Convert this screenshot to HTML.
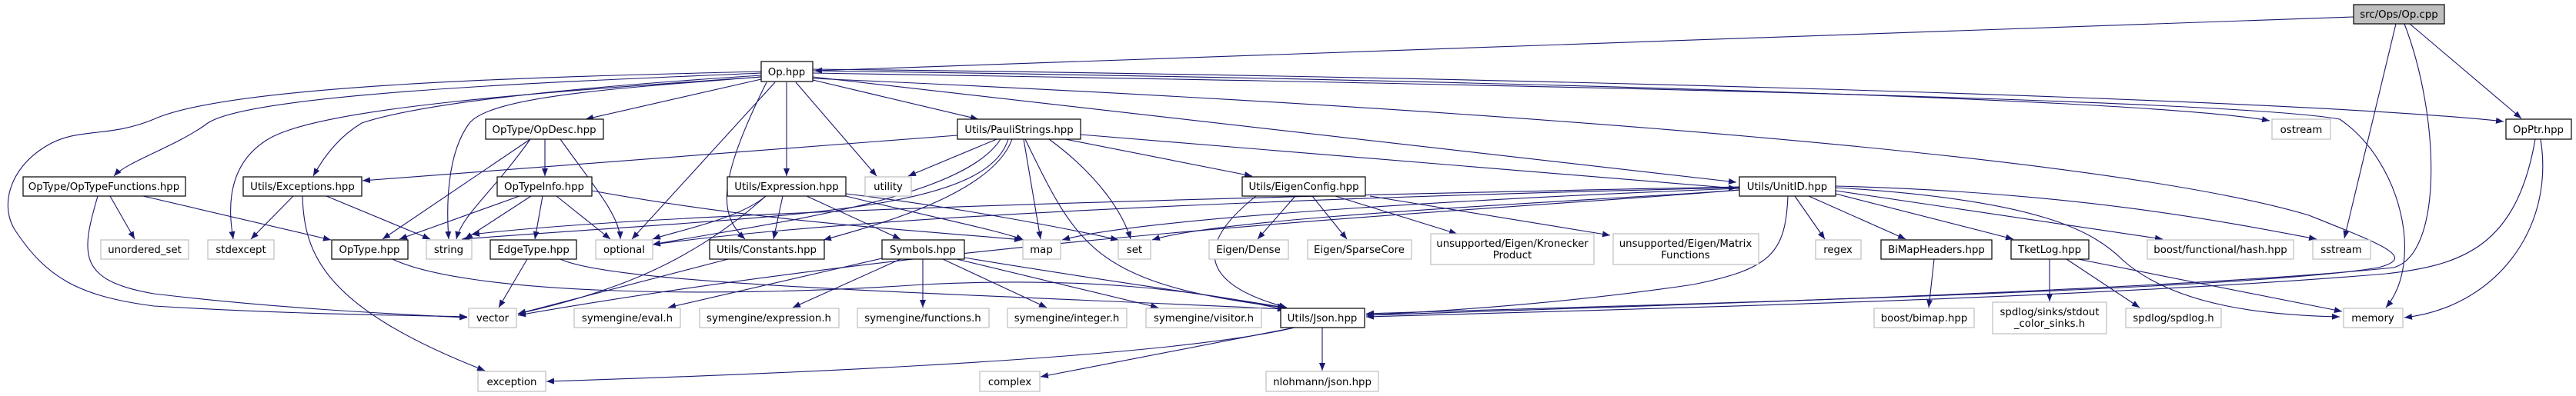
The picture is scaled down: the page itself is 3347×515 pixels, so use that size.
<!DOCTYPE html>
<html><head><meta charset="utf-8"><style>
html,body{margin:0;padding:0;background:#fff;width:3347px;height:515px;overflow:hidden}
svg{display:block}
text{font-family:"DejaVu Sans","Liberation Sans",sans-serif;font-size:13.3px;text-anchor:middle;fill:#000}
.e{fill:none;stroke:#191970;stroke-width:1.1;marker-end:url(#a)}
.b{fill:#fff;stroke:#000;stroke-width:1.2}
.g{fill:#fff;stroke:#bfbfbf;stroke-width:1.2}
</style></head><body>
<svg width="3347" height="515" viewBox="0 0 3347 515" xmlns="http://www.w3.org/2000/svg">
<defs><marker id="a" markerUnits="userSpaceOnUse" markerWidth="11" markerHeight="8" refX="10" refY="4" orient="auto"><path d="M0,0 L10,4 L0,8 z" fill="#191970"/></marker></defs>
<g>
<!-- Op.cpp edges -->
<path class="e" d="M3058,22 Q2200,50 1058,92"/>
<path class="e" d="M3113,31 L3046,310"/>
<path class="e" d="M3124,31 C3170,150 3175,330 3110,348 C2800,380 2000,402 1775,410"/>
<path class="e" d="M3131,31 L3276,154"/>
<path class="e" d="M3294,181 C3270,320 3200,345 3100,356 C2700,390 2000,405 1775,412"/>
<path class="e" d="M3301,181 C3320,300 3240,400 3124,413"/>
<!-- Op.hpp edges -->
<path class="e" d="M989,103 L761,155"/>
<path class="e" d="M989,95 C760,105 330,120 270,160 C230,190 165,210 148,229"/>
<path class="e" d="M989,98 C800,110 560,130 470,160 C440,178 420,205 407,229"/>
<path class="e" d="M989,100 C700,120 420,140 350,180 C290,215 298,280 303,311"/>
<path class="e" d="M989,100 C800,115 640,125 610,160 C580,200 580,270 583,311"/>
<path class="e" d="M989,93 C700,100 300,110 200,155 C140,180 100,165 60,190 C10,220 0,270 20,300 C60,360 100,385 200,398 C400,410 550,410 607,412"/>
<path class="e" d="M1007,107 L821,311"/>
<path class="e" d="M996,107 C930,240 935,280 968,311"/>
<path class="e" d="M1022,107 L1022,229"/>
<path class="e" d="M1034,107 L1139,229"/>
<path class="e" d="M1056,104 L1271,155"/>
<path class="e" d="M1056,100 L2256,237"/>
<path class="e" d="M1056,92 C2000,105 2800,130 2949,157"/>
<path class="e" d="M1056,90 C2000,100 3000,130 3253,158"/>
<path class="e" d="M1056,95 C2000,110 2900,130 3040,155 C3120,210 3150,340 3100,400"/>
<path class="e" d="M1056,102 C1700,130 2700,190 3000,280 C3100,320 3140,335 3090,348 C2900,380 2000,400 1775,408"/>
<!-- OpDesc -->
<path class="e" d="M708,181 L708,229"/>
<path class="e" d="M728,181 C770,240 805,280 806,311"/>
<path class="e" d="M689,181 L497,311"/>
<path class="e" d="M689,181 C640,250 600,280 593,311"/>
<!-- OpTypeFunctions -->
<path class="e" d="M143,255 L175,311"/>
<path class="e" d="M186,255 L430,312"/>
<path class="e" d="M127,255 C105,330 100,365 200,382 C350,400 500,408 607,413"/>
<!-- Exceptions -->
<path class="e" d="M381,255 L326,311"/>
<path class="e" d="M424,255 L559,311"/>
<path class="e" d="M393,255 C395,330 420,400 630,482"/>
<!-- OpTypeInfo -->
<path class="e" d="M675,255 L519,311"/>
<path class="e" d="M690,255 L604,311"/>
<path class="e" d="M705,255 L695,311"/>
<path class="e" d="M723,255 L793,311"/>
<path class="e" d="M769,248 C1000,290 1200,300 1328,312"/>
<!-- Expression -->
<path class="e" d="M995,255 C960,285 880,300 848,311"/>
<path class="e" d="M1017,255 L1005,311"/>
<path class="e" d="M1048,255 L1170,311"/>
<path class="e" d="M995,255 C900,340 800,380 673,408"/>
<path class="e" d="M1099,255 C1200,280 1300,300 1330,312"/>
<path class="e" d="M1099,252 C1250,270 1400,300 1453,312"/>
<!-- PauliStrings -->
<path class="e" d="M1244,176 L471,235"/>
<path class="e" d="M1295,181 L1180,229"/>
<path class="e" d="M1330,181 L1352,311"/>
<path class="e" d="M1363,181 C1430,230 1460,280 1469,311"/>
<path class="e" d="M1384,181 L1627,229"/>
<path class="e" d="M1404,175 L2256,245"/>
<path class="e" d="M1310,181 C1280,280 1000,280 600,311"/>
<path class="e" d="M1300,181 C1250,260 1000,290 848,318"/>
<path class="e" d="M1315,181 C1290,250 1150,290 1070,312"/>
<path class="e" d="M1332,181 C1400,320 1420,370 1670,400"/>
<!-- EigenConfig -->
<path class="e" d="M1683,255 L1634,311"/>
<path class="e" d="M1705,255 L1750,311"/>
<path class="e" d="M1735,255 L1893,304"/>
<path class="e" d="M1780,255 L2092,306"/>
<path class="e" d="M1632,255 C1550,320 1560,370 1672,400"/>
<!-- UnitID -->
<path class="e" d="M2332,255 L2371,311"/>
<path class="e" d="M2350,255 L2476,311"/>
<path class="e" d="M2385,252 L2616,311"/>
<path class="e" d="M2385,248 L2810,311"/>
<path class="e" d="M2385,242 C2700,250 2900,290 3010,311"/>
<path class="e" d="M2385,244 C2650,260 2720,300 2760,340 C2830,400 2950,410 3040,412"/>
<path class="e" d="M2323,255 C2320,330 2300,350 2200,370 C2000,400 1800,408 1775,410"/>
<path class="e" d="M2260,245 C2000,255 1500,280 1380,312"/>
<path class="e" d="M2260,247 C2100,260 1600,280 1497,312"/>
<path class="e" d="M2260,244 C2000,250 1200,270 848,318"/>
<path class="e" d="M2260,243 C1900,250 900,270 613,305"/>
<path class="e" d="M2260,247 C2000,270 1300,300 673,410"/>
<!-- leaves -->
<path class="e" d="M2513,337 L2506,400"/>
<path class="e" d="M2663,337 L2663,392"/>
<path class="e" d="M2685,337 L2780,400"/>
<path class="e" d="M2700,337 L3043,405"/>
<path class="e" d="M1199,337 L1199,400"/>
<path class="e" d="M1225,337 L1360,400"/>
<path class="e" d="M1243,337 L1505,400"/>
<path class="e" d="M1253,335 C1400,360 1550,380 1670,400"/>
<path class="e" d="M1150,335 L868,400"/>
<path class="e" d="M1170,337 L1030,400"/>
<path class="e" d="M946,337 L673,408"/>
<path class="e" d="M510,337 C600,380 900,390 1200,370 C1400,360 1550,375 1670,403"/>
<path class="e" d="M685,337 L648,400"/>
<path class="e" d="M728,337 C800,370 1200,380 1670,402"/>
<path class="e" d="M1682,426 C1500,470 900,490 710,496"/>
<path class="e" d="M1682,426 L1352,490"/>
<path class="e" d="M1718,426 L1718,482"/>
</g>
<g>
<rect x="3058" y="6" width="118" height="25" fill="#bfbfbf" stroke="#000" stroke-width="1.2"/><text x="3117" y="23">src/Ops/Op.cpp</text>
<rect class="b" x="989" y="80" width="67" height="26"/><text x="1022" y="98">Op.hpp</text>
<rect class="b" x="631" y="155" width="153" height="26"/><text x="707" y="173">OpType/OpDesc.hpp</text>
<rect class="b" x="1244" y="155" width="160" height="26"/><text x="1324" y="173">Utils/PauliStrings.hpp</text>
<rect class="g" x="2952" y="155" width="76" height="26"/><text x="2990" y="173">ostream</text>
<rect class="b" x="3256" y="155" width="85" height="26"/><text x="3298" y="173">OpPtr.hpp</text>
<rect class="b" x="30" y="230" width="211" height="25"/><text x="135" y="247">OpType/OpTypeFunctions.hpp</text>
<rect class="b" x="316" y="230" width="154" height="25"/><text x="393" y="247">Utils/Exceptions.hpp</text>
<rect class="b" x="646" y="230" width="123" height="25"/><text x="707" y="247">OpTypeInfo.hpp</text>
<rect class="b" x="945" y="230" width="154" height="25"/><text x="1022" y="247">Utils/Expression.hpp</text>
<rect class="g" x="1124" y="230" width="60" height="25"/><text x="1154" y="247">utility</text>
<rect class="b" x="1614" y="230" width="160" height="25"/><text x="1694" y="247">Utils/EigenConfig.hpp</text>
<rect class="b" x="2260" y="230" width="125" height="25"/><text x="2322" y="247">Utils/UnitID.hpp</text>
<rect class="g" x="131" y="312" width="114" height="25"/><text x="188" y="329">unordered_set</text>
<rect class="g" x="270" y="312" width="86" height="25"/><text x="313" y="329">stdexcept</text>
<rect class="b" x="431" y="312" width="99" height="25"/><text x="480" y="329">OpType.hpp</text>
<rect class="g" x="554" y="312" width="59" height="25"/><text x="583" y="329">string</text>
<rect class="b" x="637" y="312" width="112" height="25"/><text x="693" y="329">EdgeType.hpp</text>
<rect class="g" x="774" y="312" width="74" height="25"/><text x="811" y="329">optional</text>
<rect class="b" x="922" y="312" width="149" height="25"/><text x="996" y="329">Utils/Constants.hpp</text>
<rect class="b" x="1146" y="312" width="107" height="25"/><text x="1199" y="329">Symbols.hpp</text>
<rect class="g" x="1329" y="312" width="49" height="25"/><text x="1353" y="329">map</text>
<rect class="g" x="1453" y="312" width="42" height="25"/><text x="1474" y="329">set</text>
<rect class="g" x="1571" y="312" width="103" height="25"/><text x="1622" y="329">Eigen/Dense</text>
<rect class="g" x="1699" y="312" width="135" height="25"/><text x="1766" y="329">Eigen/SparseCore</text>
<rect class="g" x="1859" y="304" width="212" height="40"/><text x="1965" y="321">unsupported/Eigen/Kronecker</text><text x="1965" y="336">Product</text>
<rect class="g" x="2096" y="304" width="189" height="40"/><text x="2190" y="321">unsupported/Eigen/Matrix</text><text x="2190" y="336">Functions</text>
<rect class="g" x="2359" y="312" width="59" height="25"/><text x="2388" y="329">regex</text>
<rect class="b" x="2444" y="312" width="144" height="25"/><text x="2516" y="329">BiMapHeaders.hpp</text>
<rect class="b" x="2613" y="312" width="101" height="25"/><text x="2663" y="329">TketLog.hpp</text>
<rect class="g" x="2790" y="312" width="190" height="25"/><text x="2885" y="329">boost/functional/hash.hpp</text>
<rect class="g" x="3005" y="312" width="75" height="25"/><text x="3042" y="329">sstream</text>
<rect class="g" x="609" y="401" width="62" height="25"/><text x="640" y="418">vector</text>
<rect class="g" x="746" y="401" width="138" height="25"/><text x="815" y="418">symengine/eval.h</text>
<rect class="g" x="909" y="401" width="181" height="25"/><text x="999" y="418">symengine/expression.h</text>
<rect class="g" x="1114" y="401" width="171" height="25"/><text x="1199" y="418">symengine/functions.h</text>
<rect class="g" x="1309" y="401" width="155" height="25"/><text x="1386" y="418">symengine/integer.h</text>
<rect class="g" x="1489" y="401" width="150" height="25"/><text x="1564" y="418">symengine/visitor.h</text>
<rect class="b" x="1664" y="401" width="109" height="25"/><text x="1718" y="418">Utils/Json.hpp</text>
<rect class="g" x="2435" y="401" width="130" height="25"/><text x="2500" y="418">boost/bimap.hpp</text>
<rect class="g" x="2589" y="393" width="148" height="41"/><text x="2663" y="410">spdlog/sinks/stdout</text><text x="2663" y="425">_color_sinks.h</text>
<rect class="g" x="2762" y="401" width="124" height="25"/><text x="2824" y="418">spdlog/spdlog.h</text>
<rect class="g" x="3045" y="401" width="77" height="25"/><text x="3083" y="418">memory</text>
<rect class="g" x="621" y="483" width="88" height="26"/><text x="665" y="501">exception</text>
<rect class="g" x="1273" y="483" width="78" height="26"/><text x="1312" y="501">complex</text>
<rect class="g" x="1645" y="483" width="146" height="26"/><text x="1718" y="501">nlohmann/json.hpp</text>
</g>
</svg>
</body></html>
